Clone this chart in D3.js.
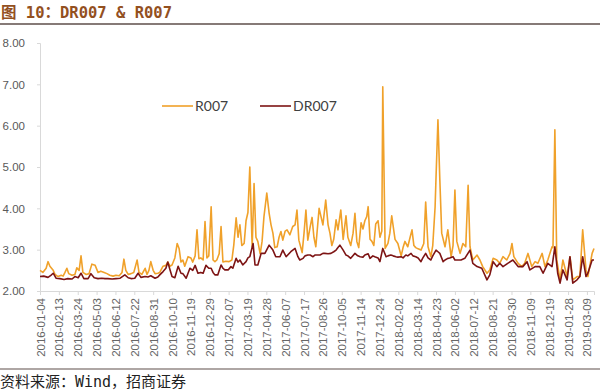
<!DOCTYPE html>
<html>
<head>
<meta charset="utf-8">
<script src="https://cdn.jsdelivr.net/npm/d3@7"></script>
<style>
  body { margin: 0; background: #fff; }
  svg { display: block; }
</style>
</head>
<body>
<div id="chart"></div>
<script>
// days counted from 2016-01-04
let startDate = new Date(2016, 0, 4);

let r007Day = [0, 6, 13, 17, 21, 28, 32, 38, 45, 49, 53, 57, 61, 68, 74, 78, 83, 87, 91, 98,
    104, 110, 117, 123, 129, 136, 142, 148, 155, 161, 168, 174, 178, 182, 187, 193, 199, 206, 210, 216,
    223, 227, 231, 235, 240, 244, 250, 254, 261, 267, 271, 276, 280, 286, 291, 295, 299, 303, 307, 314,
    320, 324, 329, 333, 337, 341, 346, 350, 354, 358, 363, 367, 371, 375, 380, 384, 388, 394, 401, 407,
    411, 416, 420, 424, 428, 433, 437, 441, 445, 450, 454, 458, 462, 467, 471, 475, 481, 486, 490, 494,
    498, 503, 507, 511, 515, 520, 524, 530, 536, 541, 545, 549, 556, 560, 564, 568, 573, 577, 581, 585,
    592, 596, 600, 606, 611, 615, 619, 623, 628, 632, 638, 643, 649, 653, 659, 664, 668, 672, 676, 681,
    685, 689, 693, 696, 700, 704, 708, 712, 717, 721, 725, 727, 732, 738, 742, 746, 753, 759, 766, 770,
    774, 780, 785, 789, 793, 797, 802, 808, 814, 818, 823, 829, 833, 838, 840, 844, 848, 852, 859, 865,
    872, 876, 880, 884, 891, 897, 903, 908, 912, 918, 927, 933, 939, 948, 954, 961, 969, 975, 982, 990,
    997, 1001, 1005, 1014, 1022, 1028, 1035, 1043, 1050, 1056, 1065, 1071, 1077, 1086, 1088, 1092, 1096, 1103, 1109, 1118,
    1124, 1130, 1139, 1145, 1151, 1158, 1162, 1171, 1175];

let r007 = [2.50, 2.45, 2.55, 2.71, 2.60, 2.50, 2.40, 2.35, 2.38, 2.36, 2.45, 2.55, 2.42, 2.38, 2.40, 2.56, 2.50, 2.85, 2.45, 2.40,
    2.42, 2.65, 2.62, 2.45, 2.48, 2.45, 2.42, 2.38, 2.36, 2.38, 2.37, 2.45, 2.77, 2.50, 2.40, 2.42, 2.45, 2.75, 2.45, 2.40,
    2.55, 2.40, 2.50, 2.71, 2.50, 2.42, 2.43, 2.45, 2.60, 2.62, 2.70, 2.60, 2.63, 2.80, 3.15, 3.03, 2.70, 2.75, 2.60, 2.83,
    2.80, 2.70, 2.85, 3.48, 2.78, 2.80, 2.75, 3.68, 2.80, 2.85, 4.04, 2.75, 2.71, 2.75, 2.90, 3.56, 2.70, 2.72, 2.71, 2.75,
    3.11, 3.77, 3.30, 3.60, 3.10, 3.15, 3.70, 3.90, 5.00, 3.07, 4.60, 3.30, 3.20, 2.90, 3.20, 3.80, 4.37, 3.88, 3.60, 3.40,
    3.05, 3.07, 3.30, 3.44, 3.23, 3.45, 3.48, 3.36, 3.56, 3.60, 3.96, 3.23, 2.93, 3.40, 3.96, 3.23, 3.55, 3.78, 3.30, 3.07,
    4.00, 3.80, 3.60, 4.20, 3.60, 3.40, 3.10, 3.25, 3.72, 3.48, 3.96, 3.25, 3.82, 3.30, 3.10, 3.40, 3.88, 3.20, 3.05, 3.65,
    3.50, 3.70, 3.80, 4.04, 3.25, 3.20, 3.10, 3.62, 3.70, 3.30, 3.45, 6.94, 3.03, 3.15, 3.40, 3.82, 3.25, 3.15, 2.85, 3.05,
    3.20, 3.07, 3.30, 3.48, 3.10, 3.05, 3.02, 2.99, 3.15, 4.15, 3.07, 2.83, 3.10, 4.04, 4.77, 6.14, 4.70, 3.40, 3.07, 3.48,
    2.83, 3.10, 4.44, 3.20, 2.91, 3.15, 3.07, 4.56, 3.07, 2.75, 2.87, 2.75, 2.59, 2.43, 2.51, 2.79, 2.75, 2.67, 2.83, 2.75,
    2.91, 3.15, 2.83, 2.67, 2.59, 2.67, 2.91, 2.59, 2.71, 2.67, 2.91, 2.59, 2.75, 3.07, 3.05, 5.90, 2.75, 2.27, 2.75, 2.35,
    2.83, 2.27, 2.35, 2.35, 3.48, 2.51, 2.35, 2.91, 3.03];

let dr007Day = [0, 8, 17, 23, 28, 34, 42, 51, 59, 68, 74, 81, 87, 93, 102, 108, 115, 123, 131, 138,
    144, 153, 161, 170, 180, 187, 193, 201, 208, 214, 223, 229, 235, 244, 250, 254, 261, 267, 271, 276,
    280, 286, 293, 299, 303, 310, 318, 324, 329, 335, 341, 346, 352, 358, 363, 367, 371, 377, 384, 388,
    392, 399, 405, 409, 416, 420, 424, 430, 437, 441, 445, 452, 456, 462, 469, 477, 486, 494, 500, 509,
    515, 522, 532, 541, 547, 551, 558, 562, 568, 573, 579, 583, 590, 594, 600, 604, 611, 617, 623, 628,
    632, 636, 643, 649, 653, 659, 668, 674, 679, 685, 689, 696, 700, 706, 710, 717, 721, 727, 734, 738,
    744, 749, 755, 759, 766, 770, 776, 780, 787, 791, 797, 802, 808, 812, 818, 823, 829, 833, 840, 844,
    848, 855, 859, 865, 869, 876, 880, 886, 893, 901, 912, 918, 927, 937, 948, 954, 961, 969, 975, 982,
    992, 1003, 1014, 1024, 1033, 1039, 1050, 1060, 1067, 1077, 1086, 1092, 1098, 1103, 1109, 1118, 1124, 1130, 1139, 1145,
    1151, 1158, 1162, 1171, 1175];

let dr007 = [2.35, 2.36, 2.33, 2.38, 2.43, 2.31, 2.30, 2.28, 2.30, 2.29, 2.35, 2.32, 2.43, 2.30, 2.30, 2.42, 2.32, 2.30, 2.31, 2.30,
    2.30, 2.29, 2.30, 2.31, 2.39, 2.32, 2.30, 2.31, 2.43, 2.33, 2.35, 2.34, 2.37, 2.31, 2.34, 2.39, 2.47, 2.55, 2.70, 2.50,
    2.35, 2.32, 2.60, 2.43, 2.42, 2.31, 2.55, 2.50, 2.62, 2.43, 2.45, 2.43, 2.62, 2.55, 2.55, 2.45, 2.39, 2.39, 2.63, 2.55,
    2.51, 2.51, 2.59, 2.55, 2.79, 2.70, 2.75, 2.63, 2.71, 2.80, 2.83, 3.15, 2.63, 2.63, 2.91, 2.91, 3.11, 2.99, 2.83, 2.83,
    2.99, 2.83, 2.95, 3.03, 2.83, 2.75, 2.79, 2.85, 2.87, 2.87, 2.83, 2.87, 2.87, 2.87, 2.91, 2.91, 2.90, 2.91, 2.95, 2.99,
    3.05, 3.11, 2.99, 2.87, 2.85, 2.79, 2.91, 2.85, 2.83, 2.82, 2.87, 2.90, 2.79, 2.85, 2.83, 2.80, 2.71, 3.03, 2.83, 2.85,
    2.87, 2.85, 2.83, 2.82, 2.83, 2.80, 2.87, 2.85, 2.91, 2.85, 2.83, 2.80, 2.71, 2.80, 2.91, 2.80, 2.75, 2.85, 2.99, 2.95,
    2.91, 2.71, 2.75, 2.79, 2.80, 2.83, 2.75, 2.75, 2.75, 2.79, 2.99, 2.67, 2.59, 2.55, 2.27, 2.39, 2.71, 2.59, 2.67, 2.59,
    2.67, 2.75, 2.59, 2.59, 2.71, 2.51, 2.59, 2.59, 2.43, 2.67, 2.59, 3.07, 2.43, 2.19, 2.51, 2.27, 2.83, 2.19, 2.27, 2.35,
    2.83, 2.35, 2.43, 2.75, 2.75];

let xTickLabels = ["2016-01-04", "2016-02-13", "2016-03-24", "2016-05-03", "2016-06-12", "2016-07-22",
    "2016-08-31", "2016-10-10", "2016-11-19", "2016-12-29", "2017-02-07", "2017-03-19", "2017-04-28",
    "2017-06-07", "2017-07-17", "2017-08-26", "2017-10-05", "2017-11-14", "2017-12-24", "2018-02-02",
    "2018-03-14", "2018-04-23", "2018-06-02", "2018-07-12", "2018-08-21", "2018-09-30", "2018-11-09",
    "2018-12-19", "2019-01-28", "2019-03-09"];

let yTicks = [2, 3, 4, 5, 6, 7, 8];

let seriesNames = ["R007", "DR007"];
let seriesColors = ["#f0a12a", "#7d1414"];

let width = 600, height = 391;
let margin = { top: 43, right: 6, bottom: 100, left: 40 };

let svg = d3.select("#chart")
    .append("svg")
    .attr("width", width)
    .attr("height", height)
    .style("font-family", "Lato, 'Noto Sans', sans-serif");

let parseDate = d3.timeParse("%Y-%m-%d");

function toDate(d) {
    return d3.timeDay.offset(startDate, d);
}

let x = d3.scaleTime()
    .domain([startDate, toDate(1175)])
    .range([margin.left, width - margin.right]);

let y = d3.scaleLinear()
    .domain([2, 8])
    .range([height - margin.bottom, margin.top]);

// title
svg.append("text")
    .attr("x", 1)
    .attr("y", 18)
    .attr("fill", "#93501f")
    .style("font-family", "'DejaVu Sans Mono', 'Noto Sans CJK SC', monospace")
    .style("font-weight", "bold")
    .style("font-size", "15.5px")
    .text("图 10：DR007 & R007");

svg.append("line")
    .attr("x1", 0).attr("x2", width)
    .attr("y1", 24).attr("y2", 24)
    .attr("stroke", "#5e4e4a")
    .attr("stroke-width", 1.5);

// y axis
let yAxis = svg.append("g")
    .attr("transform", "translate(" + margin.left + ",0)")
    .call(d3.axisLeft(y).tickValues(yTicks).tickSize(3).tickPadding(12).tickFormat(d3.format(".2f")));

yAxis.select(".domain").attr("stroke", "#d9d9d9");
yAxis.selectAll(".tick line").attr("stroke", "#d9d9d9");
yAxis.selectAll("text")
    .attr("fill", "#595959")
    .style("font-size", "11.5px");

// x axis
let xAxis = svg.append("g")
    .attr("transform", "translate(0," + y(2) + ")")
    .call(d3.axisBottom(x).tickValues(xTickLabels.map(parseDate)).tickSize(4).tickFormat(d3.timeFormat("%Y-%m-%d")));

xAxis.select(".domain").attr("stroke", "#d9d9d9");
xAxis.selectAll(".tick line").attr("stroke", "#d9d9d9");
xAxis.selectAll("text")
    .attr("transform", "rotate(-90)")
    .attr("x", -7)
    .attr("y", 0)
    .attr("dy", "0.35em")
    .style("text-anchor", "end")
    .attr("fill", "#666")
    .style("font-size", "11.5px");

// lines
let line = d3.line()
    .x(function (d) { return x(toDate(d.day)); })
    .y(function (d) { return y(d.value); });

let r007Data = r007Day.map(function (d, i) { return { day: d, value: r007[i] }; });
let dr007Data = dr007Day.map(function (d, i) { return { day: d, value: dr007[i] }; });

[r007Data, dr007Data].forEach(function (data, i) {
    svg.append("path")
        .datum(data)
        .attr("fill", "none")
        .attr("stroke", seriesColors[i])
        .attr("stroke-width", 1.6)
        .attr("stroke-linejoin", "round")
        .attr("d", line);
});

// legend
let legendX = [162, 260];
seriesNames.forEach(function (name, i) {
    svg.append("line")
        .attr("x1", legendX[i]).attr("x2", legendX[i] + 31)
        .attr("y1", 106).attr("y2", 106)
        .attr("stroke", seriesColors[i])
        .attr("stroke-width", 1.6);
    svg.append("text")
        .attr("x", legendX[i] + 33)
        .attr("y", 111)
        .attr("fill", "#404040")
        .style("font-size", "14px")
        .text(name);
});

// source
svg.append("line")
    .attr("x1", 0).attr("x2", width)
    .attr("y1", 369).attr("y2", 369)
    .attr("stroke", "#5e4e4a")
    .attr("stroke-width", 1.2);

svg.append("text")
    .attr("x", 0)
    .attr("y", 387)
    .attr("fill", "#222")
    .style("font-family", "'DejaVu Sans Mono', 'Noto Sans CJK SC', monospace")
    .style("font-size", "15px")
    .text("资料来源：Wind，招商证券");
</script>
</body>
</html>
